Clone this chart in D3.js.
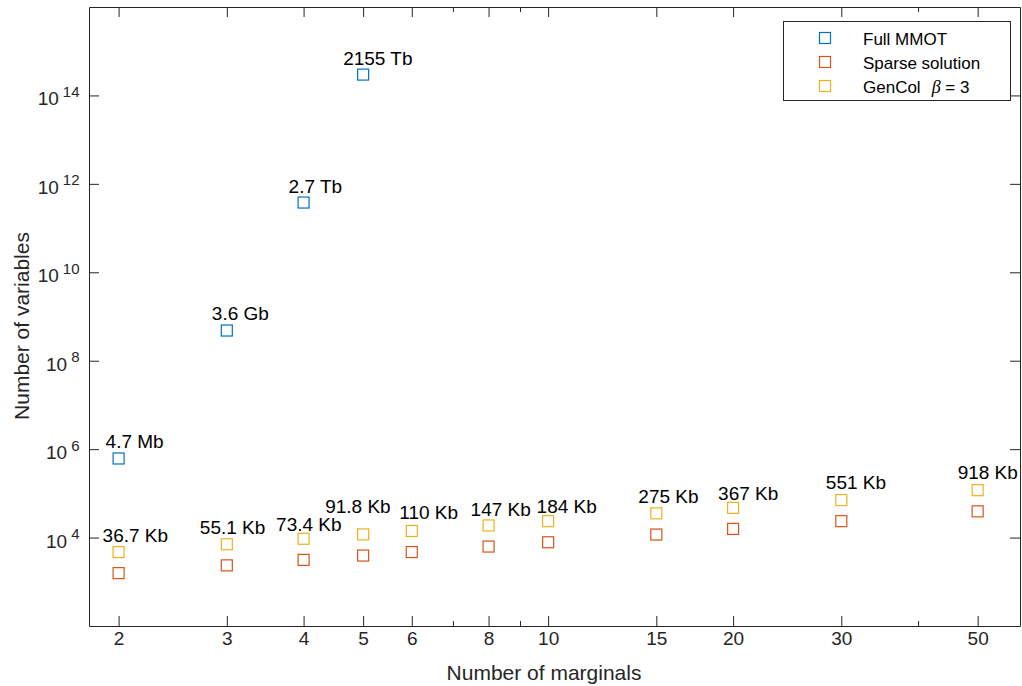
<!DOCTYPE html>
<html>
<head>
<meta charset="utf-8">
<script src="https://cdn.jsdelivr.net/npm/d3@7"></script>
<style>
  body { margin: 0; background: #fff; }
  svg text { font-family: "Liberation Sans", Arial, Helvetica, sans-serif; fill: #262626; }
  .axis path, .axis line { stroke: #262626; }
</style>
</head>
<body>
<svg id="chart" width="1022" height="686"></svg>
<script>
// values (number of variables vs number of marginals)
var marginals    = [2, 3, 4, 5, 6, 8, 10, 15, 20, 30, 50];
var fullMarginals = [2, 3, 4, 5];
var fullMMOT     = [6.15e5, 4.82e8, 3.78e11, 2.96e14];
var sparseSol    = [1.57e3, 2.35e3, 3.13e3, 3.92e3, 4.70e3, 6.27e3, 7.83e3, 1.17e4, 1.57e4, 2.35e4, 3.92e4];
var genCol       = [4.70e3, 7.06e3, 9.41e3, 1.18e4, 1.41e4, 1.88e4, 2.35e4, 3.53e4, 4.70e4, 7.06e4, 1.18e5];

var fullLabels   = ["4.7 Mb", "3.6 Gb", "2.7 Tb", "2155 Tb"];
var genColLabels = ["36.7 Kb", "55.1 Kb", "73.4 Kb", "91.8 Kb", "110 Kb", "147 Kb",
                    "184 Kb", "275 Kb", "367 Kb", "551 Kb", "918 Kb"];

var xTicks      = [2, 3, 4, 5, 6, 8, 10, 15, 20, 30, 50];
var xMinorTicks = [7, 9, 40];
var yTicks      = [1e4, 1e6, 1e8, 1e10, 1e12, 1e14];

var seriesNames  = ["Full MMOT", "Sparse solution", "GenCol"];
var seriesColors = ["#0072BD", "#D95319", "#EDB120"];

// hand nudges of the annotation text (px, from marker centre to text origin)
var fullNudge = [[-13, -10], [-15, -11], [-15, -10], [-20, -10]];
var genNudge  = [[-16, -10.5], [-27, -10.5], [-27.5, -8], [-38, -21], [-12.5, -11.5], [-18, -9],
                 [-11.5, -8], [-18, -10.5], [-15, -8], [-15.5, -11], [-20, -11]];

var L = 89, R = 1020, T = 7, B = 626;

var svg = d3.select("#chart");

var x = d3.scaleLog().domain([1.79, 58.6]).range([L, R]);
var y = d3.scaleLog().domain([1e2, 1e16]).range([B, T]);

// axes: ticks point inward, box all round
svg.append("g").attr("class", "axis")
  .attr("transform", "translate(0," + B + ")")
  .call(d3.axisBottom(x).tickValues(xTicks).tickFormat(d3.format("d"))
        .tickSizeInner(-10).tickSizeOuter(0).tickPadding(6))
  .call(function(g){ g.selectAll("text").style("font-size", "19px").attr("fill", "#262626"); });

svg.append("g").attr("class", "axis")
  .attr("transform", "translate(0," + B + ")")
  .call(d3.axisBottom(x).tickValues(xMinorTicks).tickFormat("").tickSizeInner(-5).tickSizeOuter(0))
  .call(function(g){ g.select(".domain").remove(); });

svg.append("g").attr("class", "axis")
  .attr("transform", "translate(0," + T + ")")
  .call(d3.axisTop(x).tickValues(xTicks).tickFormat("").tickSizeInner(-10).tickSizeOuter(0));

svg.append("g").attr("class", "axis")
  .attr("transform", "translate(0," + T + ")")
  .call(d3.axisTop(x).tickValues(xMinorTicks).tickFormat("").tickSizeInner(-5).tickSizeOuter(0))
  .call(function(g){ g.select(".domain").remove(); });

svg.append("g").attr("class", "axis")
  .attr("transform", "translate(" + L + ",0)")
  .call(d3.axisLeft(y).tickValues(yTicks).tickFormat("").tickSizeInner(-10).tickSizeOuter(0));

svg.append("g").attr("class", "axis")
  .attr("transform", "translate(" + R + ",0)")
  .call(d3.axisRight(y).tickValues(yTicks).tickFormat("").tickSizeInner(-10).tickSizeOuter(0));

svg.selectAll(".axis .domain").attr("stroke", "#666");

// y tick labels as 10^k
var yLab = svg.append("g").selectAll("text")
  .data(yTicks).enter().append("text")
  .attr("x", L - 9.5)
  .attr("y", function(d){ return y(d) + 10; })
  .attr("text-anchor", "end")
  .style("font-size", "19px");
yLab.append("tspan").text("10");
yLab.append("tspan")
  .attr("dx", 4).attr("dy", -8.5)
  .style("font-size", "15px")
  .text(function(d){ return Math.round(Math.log10(d)); });

// axis titles
svg.append("text")
  .attr("x", 544).attr("y", 680)
  .attr("text-anchor", "middle")
  .style("font-size", "21px")
  .text("Number of marginals");

svg.append("text")
  .attr("transform", "translate(29,326) rotate(-90)")
  .attr("text-anchor", "middle")
  .style("font-size", "21px")
  .text("Number of variables");

// markers
var S = 11;
function squares(xs, vals, color){
  svg.append("g").selectAll("rect")
    .data(vals).enter().append("rect")
    .attr("x", function(d, i){ return x(xs[i]) - S / 2; })
    .attr("y", function(d){ return y(d) - S / 2; })
    .attr("width", S).attr("height", S)
    .attr("fill", "none")
    .attr("stroke", color)
    .attr("stroke-width", 1.2);
}
squares(fullMarginals, fullMMOT, seriesColors[0]);
squares(marginals, sparseSol, seriesColors[1]);
squares(marginals, genCol, seriesColors[2]);

// memory annotations
function labels(xs, vals, texts, nudge){
  svg.append("g").selectAll("text")
    .data(texts).enter().append("text")
    .attr("x", function(d, i){ return x(xs[i]) + nudge[i][0]; })
    .attr("y", function(d, i){ return y(vals[i]) + nudge[i][1]; })
    .style("font-size", "19px")
    .style("fill", "#000")
    .text(function(d){ return d; });
}
labels(fullMarginals, fullMMOT, fullLabels, fullNudge);
labels(marginals, genCol, genColLabels, genNudge);

// legend
var lg = svg.append("g");
lg.append("rect")
  .attr("x", 783.5).attr("y", 21.5).attr("width", 227).attr("height", 79)
  .attr("fill", "#fff").attr("stroke", "#262626").attr("stroke-width", 1);

seriesNames.forEach(function(name, i){
  var ly = 38 + i * 24;
  lg.append("rect")
    .attr("x", 825 - S / 2).attr("y", ly - S / 2)
    .attr("width", S).attr("height", S)
    .attr("fill", "none").attr("stroke", seriesColors[i]).attr("stroke-width", 1.2);
  var t = lg.append("text")
    .attr("x", 863).attr("y", ly + 6.5)
    .style("font-size", "17px")
    .style("fill", "#000")
    .text(name);
  if (name == "GenCol") {
    t.append("tspan")
      .attr("dx", 11)
      .style("font-family", "'Liberation Serif', 'Times New Roman', serif")
      .style("font-style", "italic")
      .style("font-size", "18px")
      .text("\u03B2");
    t.append("tspan").text(" = 3");
  }
});
</script>
</body>
</html>
